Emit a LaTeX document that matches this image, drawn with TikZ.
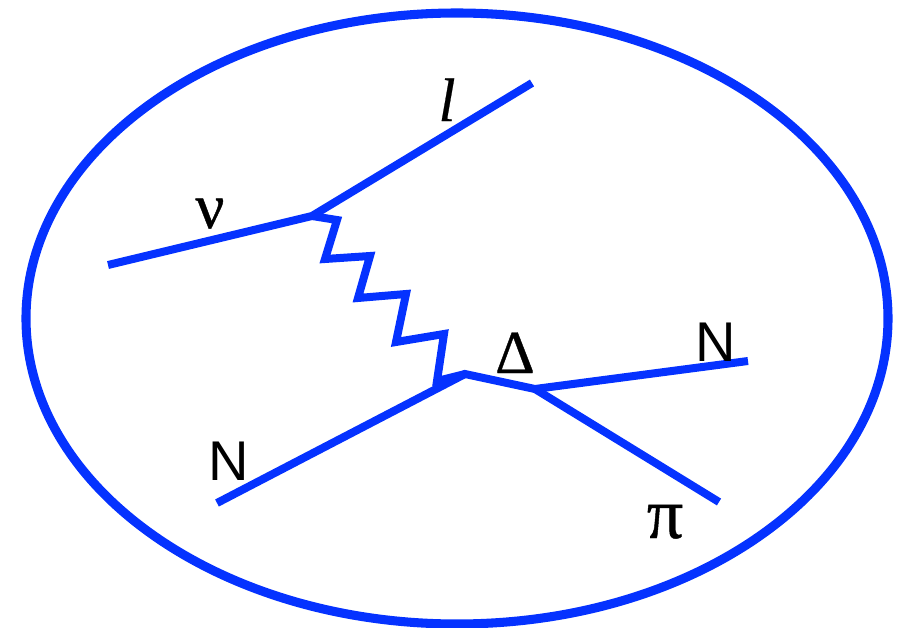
\documentclass[tikz,border=0pt]{standalone}
\usepackage{fontspec}
\setmainfont{Liberation Sans}
\newfontfamily\symf[FakeBold=0.6]{Liberation Serif}
\newfontfamily\symi[FakeBold=0.4]{Liberation Serif Italic}
\definecolor{lineblue}{RGB}{5,50,255}
\tikzset{
 ln/.style={draw=lineblue,line width=6pt,line join=miter,line cap=butt},
 lab/.style={text=black,inner sep=0pt,anchor=base},
 sanslab/.style={lab,font=\fontsize{42pt}{42pt}\selectfont},
 greeklab/.style={lab,font=\fontsize{48pt}{48pt}\selectfont\symf}}
\begin{document}
\begin{tikzpicture}[x=0.75pt,y=-0.75pt]
\useasboundingbox (0,0) rectangle (908,628);
\draw[draw=lineblue,line width=6.8pt] (457,318.5) ellipse [x radius=431,y radius=305.5];
\coordinate (nuIn) at (108,265);
\coordinate (v1) at (312,216);
\coordinate (lOut) at (532,83);
\coordinate (v2) at (465,374);
\coordinate (nIn) at (217,503);
\coordinate (v3) at (535,389);
\coordinate (nOut) at (748,361);
\coordinate (piOut) at (719,502);
\draw[ln] (nuIn) -- (v1) -- (lOut);
\draw[ln] (v1) -- (337,220) -- (325,259) -- (370,256) -- (358,298) -- (406,294) -- (396,342) -- (444,334) -- (437,381) -- (v2);
\draw[ln] (nIn) -- (v2) -- (v3) -- (nOut);
\draw[ln] (v3) -- (piOut);
\node[greeklab] (lblnu) at (210,228) {ν};
\node[lab,font=\fontsize{46pt}{46pt}\selectfont\symi] (lbll) at (447,121) {l};
\node[sanslab] (lblN1) at (229,480) {N};
\node[greeklab,font=\fontsize{46pt}{46pt}\selectfont\symf] (lbldelta) at (515,373) {Δ};
\node[sanslab] (lblN2) at (716,361) {N};
\node[greeklab,font=\fontsize{54pt}{54pt}\selectfont\symf] (lblpi) at (665,538) {π};
\end{tikzpicture}
\end{document}
